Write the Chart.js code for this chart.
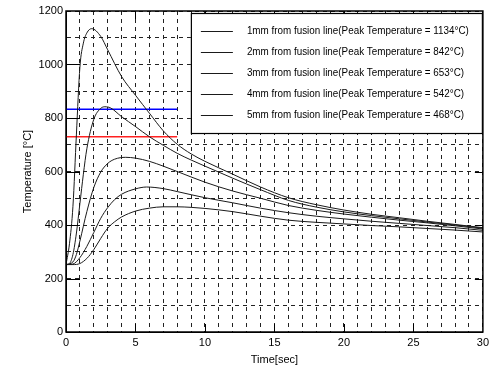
<!DOCTYPE html>
<html>
<head>
<meta charset="utf-8">
<script src="https://cdn.jsdelivr.net/npm/chart.js@4/dist/chart.umd.min.js"></script>
<style>
  html, body { margin: 0; padding: 0; background: #fff; }
  #wrap { width: 493px; height: 371px; }
</style>
</head>
<body>
<div id="wrap"><canvas id="chart"></canvas></div>
<script>
// temperature history at 1..5 mm from the fusion line
var time1 = [0, 0.25, 0.5, 0.75, 1, 1.25, 1.5, 1.85, 2.5, 3, 4, 5, 6, 7, 8, 9, 10, 12, 14, 16, 18, 20, 22, 24, 26, 28, 30];
var temp1 = [252, 330, 470, 740, 990, 1080, 1118, 1134, 1105, 1055, 955, 885, 818, 752, 702, 666, 638, 590, 542, 502, 476, 456, 440, 427, 414, 402, 390];

var time2 = [0, 0.25, 0.5, 0.75, 1, 1.25, 1.5, 2, 2.5, 2.8, 3.2, 4, 5, 6, 7, 8, 9, 10, 12, 14, 16, 18, 20, 22, 24, 26, 28, 30];
var temp2 = [252, 256, 290, 370, 480, 590, 685, 795, 836, 842, 838, 805, 768, 730, 698, 668, 643, 620, 575, 532, 492, 467, 449, 435, 423, 411, 400, 388];

var time3 = [0, 0.5, 0.75, 1, 1.5, 2, 2.5, 3, 3.5, 4.3, 5, 6, 7, 8, 10, 12, 14, 16, 18, 20, 22, 24, 26, 28, 30];
var temp3 = [252, 262, 290, 340, 450, 540, 598, 630, 646, 653, 650, 638, 620, 600, 560, 527, 500, 473, 455, 441, 429, 418, 408, 397, 385];

var time4 = [0, 0.5, 1, 1.5, 2, 2.5, 3, 3.5, 4, 5, 5.8, 7, 8, 10, 12, 14, 16, 18, 20, 22, 24, 26, 28, 30];
var temp4 = [252, 254, 278, 320, 372, 425, 465, 495, 515, 535, 542, 536, 525, 502, 483, 463, 446, 433, 423, 414, 406, 398, 390, 380];

var time5 = [0, 0.5, 1, 1.5, 2, 2.5, 3, 3.5, 4, 5, 6, 7, 8, 9, 10, 12, 14, 16, 18, 20, 22, 24, 26, 28, 30];
var temp5 = [252, 252, 256, 275, 308, 350, 388, 412, 430, 452, 463, 468, 468, 466, 462, 450, 433, 418, 410, 404, 398, 393, 387, 381, 374];

var legendLabels = [
  '1mm from fusion line(Peak Temperature = 1134\u00b0C)',
  '2mm from fusion line(Peak Temperature = 842\u00b0C)',
  '3mm from fusion line(Peak Temperature = 653\u00b0C)',
  '4mm from fusion line(Peak Temperature = 542\u00b0C)',
  '5mm from fusion line(Peak Temperature = 468\u00b0C)'
];

// reference levels drawn over the first 8 s
var refTime = [0, 8];
var blueLevel = [833, 833];
var redLevel = [730, 730];

function pts(xs, ys) {
  var out = [];
  for (var i = 0; i < xs.length; i++) out.push({x: xs[i], y: ys[i]});
  return out;
}

function curve(xs, ys) {
  return {
    data: pts(xs, ys),
    borderColor: '#1a1a1a',
    borderWidth: 1,
    pointRadius: 0,
    fill: false,
    cubicInterpolationMode: 'monotone'
  };
}

var datasets = [
  curve(time1, temp1), curve(time2, temp2), curve(time3, temp3),
  curve(time4, temp4), curve(time5, temp5),
  {data: pts(refTime, blueLevel), borderColor: '#0000ff', borderWidth: 1.5, pointRadius: 0},
  {data: pts(refTime, redLevel), borderColor: '#ff2020', borderWidth: 1.5, pointRadius: 0}
];

// box, inside ticks, and the legend panel
var matlabLook = {
  id: 'matlabLook',
  afterDatasetsDraw: function(chart) {
    var ctx = chart.ctx, a = chart.chartArea;
    var xs = chart.scales.x, ys = chart.scales.y;
    ctx.save();
    ctx.strokeStyle = '#000';
    ctx.lineWidth = 1;
    ctx.setLineDash([]);
    ctx.beginPath();
    for (var t = 5; t < 30; t += 5) {
      var px = Math.round(xs.getPixelForValue(t)) + 0.5;
      ctx.moveTo(px, a.bottom); ctx.lineTo(px, a.bottom - 8);
      ctx.moveTo(px, a.top); ctx.lineTo(px, a.top + 8);
    }
    for (var v = 200; v < 1200; v += 200) {
      var py = Math.round(ys.getPixelForValue(v)) + 0.5;
      ctx.moveTo(a.left, py); ctx.lineTo(a.left + 14, py);
      ctx.moveTo(a.right, py); ctx.lineTo(a.right - 8, py);
    }
    ctx.stroke();
    ctx.lineWidth = 1.5;
    ctx.strokeRect(a.left, a.top, a.right - a.left, a.bottom - a.top);

    // legend
    var lw = 292, lh = 120;
    var lx = a.right - lw, ly = a.top + 2;
    ctx.fillStyle = '#fff';
    ctx.fillRect(lx, ly, lw, lh);
    ctx.lineWidth = 1.2;
    ctx.strokeRect(lx + 0.5, ly + 0.5, lw - 1, lh);
    ctx.font = '10px "Liberation Sans", Arial, sans-serif';
    var sx = 222 / ctx.measureText(legendLabels[0]).width;
    ctx.textBaseline = 'middle';
    ctx.fillStyle = '#000';
    for (var i = 0; i < legendLabels.length; i++) {
      var y = ly + 18 + i * 21;
      ctx.lineWidth = 1;
      ctx.strokeStyle = '#1a1a1a';
      ctx.beginPath();
      ctx.moveTo(lx + 10, y + 0.5); ctx.lineTo(lx + 42, y + 0.5);
      ctx.stroke();
      ctx.save();
      ctx.translate(lx + 56, y);
      ctx.scale(sx, 1);
      ctx.fillText(legendLabels[i], 0, 0);
      ctx.restore();
    }
    ctx.restore();
  }
};

var tickFont = {family: '"Liberation Sans", Arial, sans-serif', size: 11};

new Chart(document.getElementById('chart'), {
  type: 'line',
  data: {datasets: datasets},
  options: {
    responsive: true,
    maintainAspectRatio: false,
    animation: false,
    layout: {padding: {top: 11, right: 6, left: 0, bottom: 0}},
    plugins: {legend: {display: false}, tooltip: {enabled: false}},
    scales: {
      x: {
        type: 'linear', min: 0, max: 30,
        afterFit: function(s) { s.height = 39; },
        ticks: {
          stepSize: 1, padding: 4, color: '#000', font: tickFont, maxRotation: 0, autoSkip: false,
          callback: function(v) { return v % 5 === 0 ? String(v) : ''; }
        },
        grid: {color: '#222', lineWidth: 1, drawTicks: false},
        border: {display: true, color: '#000', dash: [4, 4]},
        title: {display: true, text: 'Time[sec]', color: '#000', font: tickFont, padding: {top: 0, bottom: 4}}
      },
      y: {
        min: 0, max: 1200,
        afterFit: function(s) { s.width = 66; },
        ticks: {
          stepSize: 100, padding: 3, color: '#000', font: tickFont, autoSkip: false,
          callback: function(v) { return v % 200 === 0 ? String(v) : ''; }
        },
        grid: {color: '#222', lineWidth: 1, drawTicks: false},
        border: {display: true, color: '#000', dash: [4, 4]},
        title: {display: true, text: 'Temperature [\u00b0C]', color: '#000', font: tickFont, padding: {top: 21, bottom: 0}}
      }
    }
  },
  plugins: [matlabLook]
});
</script>
</body>
</html>
